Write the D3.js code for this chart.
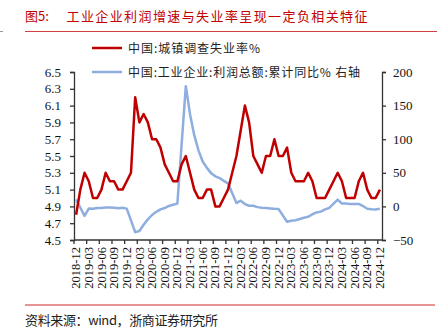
<!DOCTYPE html>
<html><head><meta charset="utf-8">
<script src="https://cdn.jsdelivr.net/npm/d3@7/dist/d3.min.js"></script>
<style>body{margin:0;background:#fff}svg{display:block}</style>
</head><body>
<svg id="c" width="437" height="336"></svg>
<script>
const months = [];
for (let y = 2018; y <= 2024; y++) for (let m = 1; m <= 12; m++) {
  if (y === 2018 && m < 12) continue;
  months.push(y + "-" + String(m).padStart(2, "0"));
}
const unemployment = [4.8,
 5.1,5.3,5.2,5.0,5.0,5.1,5.3,5.2,5.2,5.1,5.1,5.2,
 5.3,6.2,5.9,6.0,5.9,5.7,5.7,5.6,5.4,5.3,5.2,5.2,
 5.4,5.5,5.3,5.1,5.0,5.0,5.1,5.1,4.9,4.9,5.0,5.1,
 5.3,5.5,5.8,6.1,5.9,5.5,5.4,5.3,5.5,5.5,5.7,5.5,
 5.5,5.6,5.3,5.2,5.2,5.2,5.3,5.2,5.0,5.0,5.0,5.1,
 5.2,5.3,5.2,5.0,5.0,5.0,5.2,5.3,5.1,5.0,5.0,5.1];
const profitYoY = [10.3,
 null,-14.0,-3.3,-3.4,-2.3,-2.4,-1.7,-1.7,-2.1,-2.9,-2.1,-3.3,
 null,-38.3,-36.7,-27.4,-19.3,-12.8,-8.1,-4.4,-2.4,0.7,2.4,4.1,
 null,178.9,137.3,106.0,83.4,66.9,57.3,49.5,44.7,42.2,38.0,34.3,
 null,5.0,8.5,3.5,1.0,1.0,-1.1,-2.1,-2.3,-3.0,-3.6,-4.0,
 null,-22.9,-21.4,-20.6,-18.8,-16.8,-15.5,-11.7,-9.0,-7.8,-4.4,-2.3,
 null,10.2,4.3,4.3,3.4,3.5,3.6,0.5,-3.5,-4.3,-4.7,-3.3];
const leftTicks = [4.5,4.7,4.9,5.1,5.3,5.5,5.7,5.9,6.1,6.3,6.5];
const rightTicks = [-50,0,50,100,150,200];
const labels = months.filter((d,i) => i % 3 === 0);
const seriesNames = ["中国:城镇调查失业率%", "中国:工业企业:利润总额:累计同比% 右轴"];
const titleText = ["图5:", "工业企业利润增速与失业率呈现一定负相关特征"];
const sourceText = "资料来源：wind，浙商证券研究所";

const RED = "#c00000", BLUE = "#8eaee0", AX = "#333";
const svg = d3.select("#c");
const L = 74, R = 382, T = 72, B = 240;
const x = d3.scaleBand().domain(months).range([L, R]).paddingInner(0).paddingOuter(0);
const cx = d => x(d) + x.bandwidth() / 2;
const yL = d3.scaleLinear().domain([4.5, 6.5]).range([B, T]);
const yR = d3.scaleLinear().domain([-50, 200]).range([B, T]);

// title
svg.append("text").attr("x", 25).attr("y", 21).attr("fill", RED)
  .style("font", "13px 'Noto Sans CJK SC'").text(titleText[0]);
svg.append("text").attr("x", 66.5).attr("y", 21).attr("fill", RED)
  .attr("textLength", 301).attr("lengthAdjust", "spacing")
  .style("font", "13px 'Noto Sans CJK SC'").text(titleText[1]);
svg.append("line").attr("x1", 25).attr("x2", 437).attr("y1", 31.5).attr("y2", 31.5)
  .attr("stroke", "#d04040").attr("stroke-width", 1);
svg.append("line").attr("x1", 0).attr("x2", 3).attr("y1", 31.5).attr("y2", 31.5)
  .attr("stroke", "#999").attr("stroke-width", 1);

// axes
const fontAx = "13px 'Liberation Serif'";
const gL = svg.append("g").attr("transform", `translate(${L},0)`)
  .call(d3.axisLeft(yL).tickValues(leftTicks).tickFormat(d3.format(".1f")).tickSizeOuter(0).tickSize(4).tickPadding(9));
const gR = svg.append("g").attr("transform", `translate(${R},0)`)
  .call(d3.axisRight(yR).tickValues(rightTicks).tickFormat(d3.format("d")).tickSizeOuter(0).tickSize(4).tickPadding(7));
[gL, gR].forEach(g => {
  g.select(".domain").attr("stroke", AX).attr("stroke-width", 1.3);
  g.selectAll(".tick line").attr("stroke", AX).attr("stroke-width", 1.3);
  g.selectAll("text").style("font", fontAx).attr("fill", "#111");
});

// x axis
const gX = svg.append("g");
gX.append("line").attr("x1", L).attr("x2", R).attr("y1", B).attr("y2", B)
  .attr("stroke", AX).attr("stroke-width", 1.3);
gX.selectAll("line.t").data(labels).enter().append("line").attr("class", "t")
  .attr("x1", d => x(d)).attr("x2", d => x(d)).attr("y1", B).attr("y2", B + 4)
  .attr("stroke", AX).attr("stroke-width", 1.3);
gX.selectAll("text").data(labels).enter().append("text")
  .attr("transform", d => `translate(${cx(d)},247) rotate(-90)`)
  .attr("text-anchor", "end").attr("dy", "0.33em")
  .style("font", "12.5px 'Liberation Serif'").attr("fill", "#111").text(d => d);

// lines
const blueData = months.map((m, i) => ({m, v: profitYoY[i]})).filter(d => d.v !== null);
const redData = months.map((m, i) => ({m, v: unemployment[i]}));
svg.append("path").datum(blueData).attr("fill", "none").attr("stroke", BLUE)
  .attr("stroke-width", 2.5).attr("stroke-linejoin", "round")
  .attr("d", d3.line().x(d => cx(d.m)).y(d => yR(d.v)));
svg.append("path").datum(redData).attr("fill", "none").attr("stroke", RED)
  .attr("stroke-width", 2.5).attr("stroke-linejoin", "round")
  .attr("d", d3.line().x(d => cx(d.m)).y(d => yL(d.v)));

// legend
const leg = [{c: RED, y: 48, t: seriesNames[0], w: 132}, {c: BLUE, y: 72, t: seriesNames[1], w: 232}];
leg.forEach(l => {
  svg.append("line").attr("x1", 92).attr("x2", 122).attr("y1", l.y).attr("y2", l.y)
    .attr("stroke", l.c).attr("stroke-width", 2.5);
  svg.append("text").attr("x", 128).attr("y", l.y + 4.5).attr("fill", "#222")
    .attr("textLength", l.w).attr("lengthAdjust", "spacing")
    .style("font", "12px 'Noto Sans CJK SC'").text(l.t);
});

// footer
svg.append("line").attr("x1", 25).attr("x2", 435).attr("y1", 305).attr("y2", 305)
  .attr("stroke", "#e07070").attr("stroke-width", 1.5);
svg.append("text").attr("x", 25).attr("y", 325).attr("fill", "#222")
  .attr("textLength", 193).attr("lengthAdjust", "spacing")
  .style("font", "13px 'Noto Sans CJK SC'").text(sourceText);
</script>
</body></html>
